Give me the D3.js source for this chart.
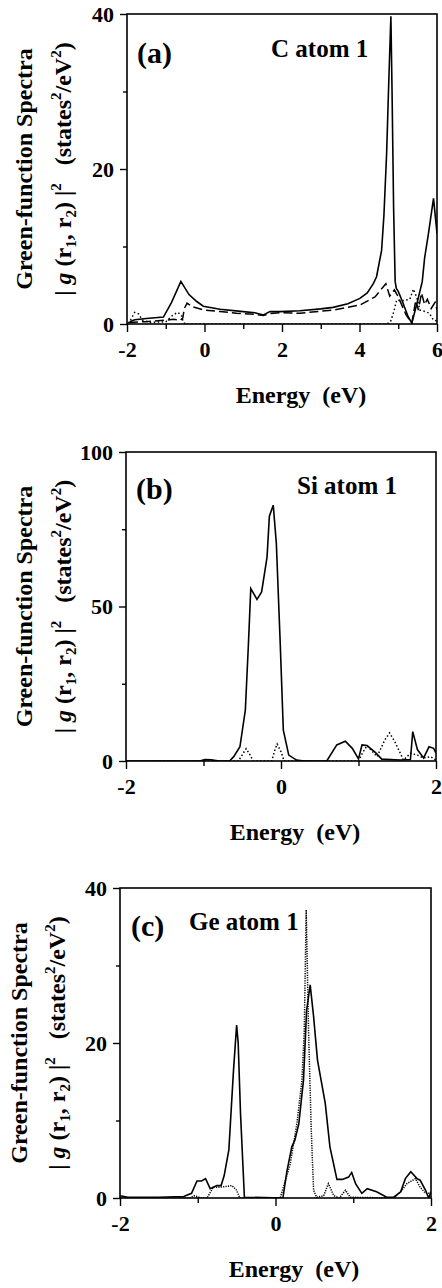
<!DOCTYPE html>
<html>
<head>
<meta charset="utf-8">
<script src="https://cdn.jsdelivr.net/npm/d3@7"></script>
<style>
  html, body { margin: 0; padding: 0; background: #fff; }
  svg { display: block; }
</style>
</head>
<body>
<script>
// ---------------- DATA ----------------
// Panel (a): C atom 1
const aTitle = "C atom 1";
const aTag = "(a)";
const aXDomain = [-2, 6];
const aYDomain = [0, 40];
const aXTicks = [-2, 0, 2, 4, 6];
const aXMinor = [-1, 1, 3, 5];
const aYTicks = [0, 20, 40];
const aYMinor = [10, 30];
const aSolid = [[-1.93,0.3],[-1.8,0.55],[-1.5,0.7],[-1.06,0.9],[-0.85,2.8],[-0.61,5.5],[-0.4,3.8],[-0.2,2.9],[-0.03,2.3],[0.4,1.9],[1.0,1.6],[1.3,1.45],[1.52,1.16],[1.69,1.6],[1.95,1.6],[2.46,1.7],[3.0,1.95],[3.32,2.15],[3.7,2.6],[4.01,3.3],[4.2,4.0],[4.36,5.25],[4.44,6.1],[4.57,9.5],[4.63,14],[4.70,22],[4.76,32],[4.81,39.7],[4.84,30],[4.88,15],[4.92,5.5],[4.95,4.6],[5.0,4.2],[5.1,3.0],[5.25,1.0],[5.35,0.1],[5.5,3.0],[5.62,5.5],[5.68,8.5],[5.78,11.7],[5.91,16.2],[6.0,11.7]];
const aDashed = [[-1.95,0.2],[-1.5,0.3],[-1.0,0.5],[-0.8,0.6],[-0.62,0.5],[-0.56,0.8],[-0.52,2.0],[-0.45,2.7],[-0.3,2.2],[0,1.8],[0.4,1.6],[0.83,1.4],[1.3,1.25],[1.52,1.1],[1.7,1.35],[1.95,1.45],[2.46,1.38],[3.32,1.8],[4.01,2.45],[4.4,3.5],[4.68,5.2],[4.78,3.6],[4.9,4.4],[5.0,3.5],[5.2,1.2],[5.35,0.1],[5.45,3.0],[5.52,1.8],[5.6,4.0],[5.68,2.5],[5.75,3.2],[5.85,2.0],[5.95,2.8],[6.0,1.8]];
const aDotted = [[-1.98,0.1],[-1.9,0.6],[-1.8,1.5],[-1.7,1.3],[-1.6,0.5],[-1.4,0.2],[-1.0,0.3],[-0.85,1.0],[-0.7,1.5],[-0.6,1.2],[-0.55,0.3],[-0.5,0],[4.7,0],[4.8,0.3],[4.88,1.5],[4.96,3.1],[5.1,3.0],[5.3,3.2],[5.39,4.5],[5.48,3.4],[5.56,1.8],[5.7,1.6],[5.8,1.4],[5.91,0.5],[6.0,0.4]];

// Panel (b): Si atom 1
const bTitle = "Si atom 1";
const bTag = "(b)";
const bXDomain = [-2, 2];
const bYDomain = [0, 100];
const bXTicks = [-2, 0, 2];
const bXMinor = [-1, 1];
const bYTicks = [0, 50, 100];
const bYMinor = [25, 75];
const bSolid = [[-2,0],[-1.05,0],[-0.98,0.5],[-0.9,0.4],[-0.8,0],[-0.66,0.1],[-0.61,1.4],[-0.53,4.6],[-0.46,16.5],[-0.42,38],[-0.39,55.8],[-0.31,52.3],[-0.25,54.7],[-0.18,66],[-0.15,79.2],[-0.1,82.8],[-0.06,70.4],[-0.01,38],[0.03,10],[0.1,1.9],[0.2,0.3],[0.3,0],[0.59,0],[0.72,5.2],[0.83,6.4],[0.92,4.1],[1.0,0.7],[1.045,5.2],[1.11,5.0],[1.22,2.7],[1.3,0.6],[1.54,0.3],[1.67,0.5],[1.70,9.5],[1.76,3.7],[1.84,1.0],[1.91,4.6],[1.97,4.1],[2.0,2.5]];
const bDotted = [[-2,0],[-0.55,0],[-0.5,2.0],[-0.45,4.0],[-0.4,2.0],[-0.36,0],[-0.12,0],[-0.08,3.5],[-0.05,5.5],[0.0,3.0],[0.04,0],[1.0,0],[1.05,2.5],[1.11,5.0],[1.24,1.4],[1.28,3.6],[1.34,6.8],[1.40,9.1],[1.47,6.2],[1.54,2.5],[1.58,0.3],[1.67,2.5],[1.76,1.9],[1.84,1.0],[1.93,1.4],[2.0,0.3]];

// Panel (c): Ge atom 1
const cTitle = "Ge atom 1";
const cTag = "(c)";
const cXDomain = [-2, 2];
const cYDomain = [0, 40];
const cXTicks = [-2, 0, 2];
const cXMinor = [-1, 1];
const cYTicks = [0, 20, 40];
const cYMinor = [10, 30];
const cSolid = [[-2,0.3],[-1.9,0.1],[-1.5,0.1],[-1.18,0.2],[-1.08,0.6],[-1.01,2.2],[-0.95,2.2],[-0.9,2.5],[-0.84,1.2],[-0.755,1.6],[-0.70,1.6],[-0.66,2.9],[-0.60,6.2],[-0.54,16.5],[-0.50,22.3],[-0.48,20],[-0.45,10.9],[-0.40,0.1],[0.095,0],[0.146,3.4],[0.21,6.6],[0.25,7.5],[0.30,9.6],[0.36,15.2],[0.40,24.2],[0.446,27.5],[0.49,23.4],[0.54,17.8],[0.64,12.2],[0.70,6.6],[0.79,2.4],[0.86,2.4],[0.94,2.7],[0.98,3.3],[1.03,1.85],[1.11,0.6],[1.18,1.2],[1.30,0.8],[1.43,0.1],[1.52,0.1],[1.61,0.8],[1.67,2.5],[1.74,3.4],[1.82,2.5],[1.86,2.3],[1.93,1.0],[1.97,0],[2.0,0.8]];
const cDotted = [[-2,0],[-1.1,0],[-1.05,0.3],[-0.95,0],[-0.88,0],[-0.8,1.4],[-0.71,1.4],[-0.63,1.5],[-0.56,1.6],[-0.5,1.0],[-0.46,0],[0.06,0],[0.19,4.4],[0.275,9.6],[0.34,15.2],[0.37,21.6],[0.395,37.2],[0.425,21.6],[0.46,8.7],[0.49,1.0],[0.53,0.1],[0.62,0.3],[0.68,1.85],[0.75,0.3],[0.82,0],[0.9,1.0],[0.96,0.1],[1.52,0],[1.61,0.8],[1.69,1.85],[1.80,2.5],[1.86,1.4],[1.93,0.6],[2.0,0.6]];

const xTitle = "Energy  (eV)";
const yTitle1 = "Green-function Spectra";

// ---------------- LAYOUT ----------------
const W = 442, H = 1288;
const FONT = "'Liberation Serif','Times New Roman',Times,serif";

const panels = [
  { tag: aTag, title: aTitle, xd: aXDomain, yd: aYDomain, xt: aXTicks, xm: aXMinor, yt: aYTicks, ym: aYMinor,
    series: [{d: aSolid, dash: null}, {d: aDashed, dash: "9,4"}, {d: aDotted, dash: "1.5,2.5"}],
    box: {l: 127, r: 437, t: 14, b: 324}, yl1: 32, yl2: 71, xtitleX: 301,
    tagPos: [137, 63], titlePos: [271, 57] },
  { tag: bTag, title: bTitle, xd: bXDomain, yd: bYDomain, xt: bXTicks, xm: bXMinor, yt: bYTicks, ym: bYMinor,
    series: [{d: bSolid, dash: null}, {d: bDotted, dash: "1.5,2.2"}],
    box: {l: 126, r: 436, t: 452, b: 761}, yl1: 32, yl2: 71, xtitleX: 295,
    tagPos: [136, 499], titlePos: [297, 494] },
  { tag: cTag, title: cTitle, xd: cXDomain, yd: cYDomain, xt: cXTicks, xm: cXMinor, yt: cYTicks, ym: cYMinor,
    series: [{d: cSolid, dash: null}, {d: cDotted, dash: "1.2,1.2"}],
    box: {l: 120, r: 431, t: 888, b: 1198}, yl1: 27, yl2: 65, xtitleX: 294,
    tagPos: [131, 936], titlePos: [189, 930] }
];

const svg = d3.select("body").append("svg").attr("width", W).attr("height", H)
  .style("font-family", FONT);

panels.forEach((p, i) => {
  const B = p.box;
  const x = d3.scaleLinear().domain(p.xd).range([B.l, B.r]);
  const y = d3.scaleLinear().domain(p.yd).range([B.b, B.t]);
  const g = svg.append("g");

  const cid = "clip" + i;
  svg.append("clipPath").attr("id", cid).append("rect")
    .attr("x", B.l).attr("y", B.t - 2).attr("width", B.r - B.l).attr("height", B.b - B.t + 2);

  const line = d3.line().x(d => x(d[0])).y(d => y(d[1]));
  p.series.forEach(s => {
    g.append("path").datum(s.d)
      .attr("clip-path", `url(#${cid})`)
      .attr("d", line)
      .attr("fill", "none").attr("stroke", "#000")
      .attr("stroke-width", s.dash ? 1.5 : 1.6)
      .attr("stroke-linejoin", "miter")
      .attr("stroke-dasharray", s.dash);
  });

  const fmt = d => String(d);
  const xAx = g.append("g").attr("transform", `translate(0,${B.b})`)
    .call(d3.axisBottom(x).tickValues(p.xt).tickSize(8).tickPadding(9).tickFormat(fmt));
  const xAxMin = g.append("g").attr("transform", `translate(0,${B.b})`)
    .call(d3.axisBottom(x).tickValues(p.xm).tickSize(5).tickFormat(""));
  const yAx = g.append("g").attr("transform", `translate(${B.l},0)`)
    .call(d3.axisLeft(y).tickValues(p.yt).tickSize(7).tickPadding(6).tickFormat(fmt));
  const yAxMin = g.append("g").attr("transform", `translate(${B.l},0)`)
    .call(d3.axisLeft(y).tickValues(p.ym).tickSize(4).tickFormat(""));
  [xAx, xAxMin, yAx, yAxMin].forEach(a => {
    a.attr("font-family", null);
    a.select(".domain").remove();
    a.selectAll("line").attr("stroke", "#000").attr("stroke-width", 1.4);
    a.selectAll("text").attr("fill", "#000")
      .style("font-family", FONT).style("font-weight", "bold").style("font-size", "22px");
  });

  g.append("rect").attr("x", B.l).attr("y", B.t).attr("width", B.r - B.l).attr("height", B.b - B.t)
    .attr("fill", "none").attr("stroke", "#000").attr("stroke-width", 1.6);

  g.append("text").attr("x", p.tagPos[0]).attr("y", p.tagPos[1]).text(p.tag)
    .style("font-weight", "bold").style("font-size", "30px");
  g.append("text").attr("x", p.titlePos[0]).attr("y", p.titlePos[1]).text(p.title)
    .style("font-weight", "bold").style("font-size", "25px");

  g.append("text").attr("x", p.xtitleX).attr("y", B.b + 79).attr("text-anchor", "middle")
    .style("white-space", "pre").style("font-weight", "bold").style("font-size", "24px")
    .text(xTitle);

  const cy = (B.t + B.b) / 2;
  g.append("text").attr("transform", `translate(${p.yl1},${cy}) rotate(-90)`)
    .attr("text-anchor", "middle").style("font-weight", "bold").style("font-size", "24px")
    .text(yTitle1);
  const t2 = g.append("text").attr("transform", `translate(${p.yl2},${cy}) rotate(-90)`)
    .attr("text-anchor", "middle").style("font-weight", "bold").style("font-size", "24px")
    .style("white-space", "pre");
  const parts = [
    ["| ", 0], ["g", 0, "italic"], [" (r", 0], ["1", 5, null, 15], [", r", -5], ["2", 5, null, 15],
    [") |", -5], ["2", -10, null, 15], ["   (states", 10], ["2", -10, null, 15], ["/eV", 10], ["2", -10, null, 15], [")", 10]
  ];
  parts.forEach(pt => {
    const ts = t2.append("tspan").text(pt[0]).attr("dy", pt[1]);
    if (pt[2]) ts.style("font-style", pt[2]);
    if (pt[3]) ts.style("font-size", pt[3] + "px");
  });
});
</script>
</body>
</html>
